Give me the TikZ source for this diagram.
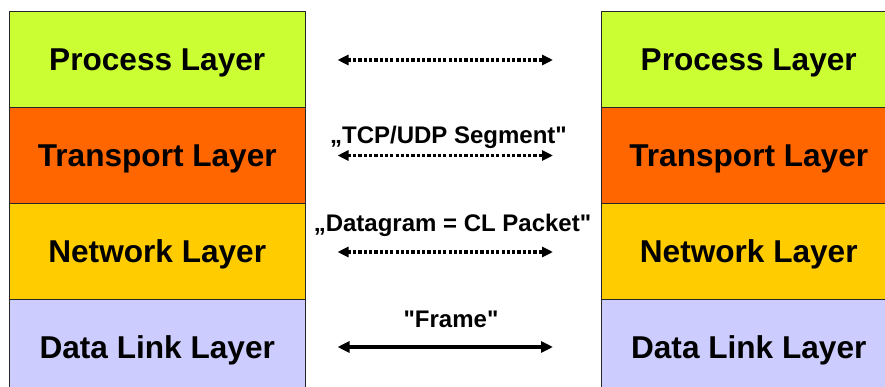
\documentclass[tikz,border=0pt]{standalone}
\usepackage{fontspec}
\newfontfamily\arialfont{Liberation Sans}
\usetikzlibrary{arrows.meta}
\definecolor{procC}{HTML}{CCFF33}
\definecolor{tranC}{HTML}{FF6600}
\definecolor{netC}{HTML}{FFCC00}
\definecolor{dlC}{HTML}{CCCCFF}
\tikzset{
  layer/.style={draw=black!85, line width=0.9pt, minimum width=295.5pt, minimum height=96pt,
    inner sep=0pt, outer sep=0pt, text height=22.6pt, text depth=0pt,
    font=\arialfont\bfseries\fontsize{31.6}{36}\selectfont, text=black},
  lbl/.style={font=\arialfont\bfseries\fontsize{24}{28}\selectfont, text=black, inner sep=0pt, anchor=base},
  dotarrow/.style={line width=3.6pt, dash pattern=on 3.2pt off 2.1pt,
    {Triangle[length=11pt,width=10pt]}-{Triangle[length=11pt,width=10pt]}},
  solidarrow/.style={line width=3.4pt,
    {Triangle[length=12pt,width=11pt]}-{Triangle[length=12pt,width=11pt]}}
}
\begin{document}
\begin{tikzpicture}[x=1pt,y=-1pt]
\useasboundingbox (0,0) rectangle (885,387);
\clip (0,0) rectangle (885,387);
% left stack
\node[layer, fill=procC] (lp) at (157.25,59.25) {Process Layer};
\node[layer, fill=tranC] (lt) at (157.25,155) {Transport Layer};
\node[layer, fill=netC] (ln) at (157.25,251) {Network Layer};
\node[layer, fill=dlC] (ld) at (157.25,347) {Data Link Layer};
% right stack
\node[layer, fill=procC] (rp) at (748.75,59.25) {Process Layer};
\node[layer, fill=tranC] (rt) at (748.75,155) {Transport Layer};
\node[layer, fill=netC] (rn) at (748.75,251) {Network Layer};
\node[layer, fill=dlC] (rd) at (748.75,347) {Data Link Layer};
% arrow end points
\coordinate (a1l) at (337.5,60);  \coordinate (a1r) at (553,60);
\coordinate (a2l) at (337.5,155.5); \coordinate (a2r) at (553,155.5);
\coordinate (a3l) at (337.5,252); \coordinate (a3r) at (553,252);
\coordinate (a4l) at (337.5,347); \coordinate (a4r) at (553,347);
\draw[dotarrow] (a1l) -- (a1r);
\draw[dotarrow] (a2l) -- (a2r);
\draw[dotarrow] (a3l) -- (a3r);
\draw[solidarrow] (a4l) -- (a4r);
% labels
\node[lbl] (l2) at (448.5,143.3) {„TCP/UDP Segment"};
\node[lbl] (l3) at (452.5,231.7) {„Datagram = CL Packet"};
\node[lbl] (l4) at (451,327.7) {"Frame"};
\end{tikzpicture}
\end{document}
